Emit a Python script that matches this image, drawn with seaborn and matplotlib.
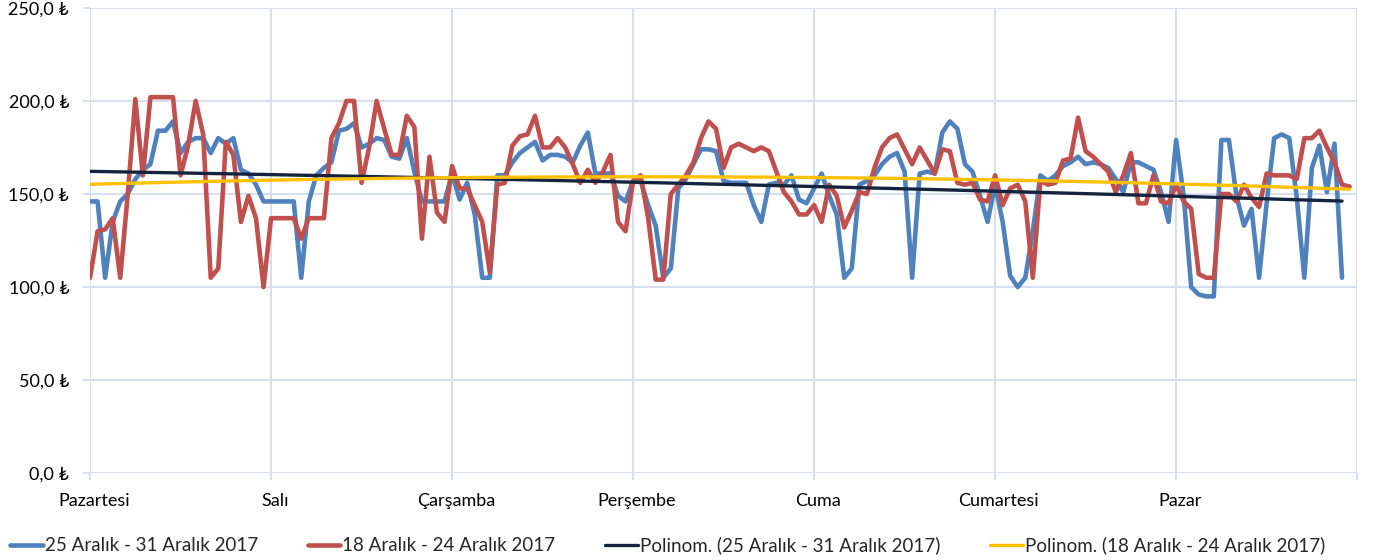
import numpy as np
import pandas as pd
import matplotlib
matplotlib.use("Agg")
import matplotlib.pyplot as plt
import seaborn as sns

# ---------------------------------
# Data: hourly prices, one week each
# ---------------------------------

days = ["Pazartesi", "Salı", "Çarşamba", "Perşembe", "Cuma", "Cumartesi", "Pazar"]
label_this = "25 Aralık - 31 Aralık 2017"
label_prev = "18 Aralık - 24 Aralık 2017"
label_trend_this = "Polinom. (25 Aralık - 31 Aralık 2017)"
label_trend_prev = "Polinom. (18 Aralık - 24 Aralık 2017)"

this_week = [
    146, 146, 105, 135, 146, 150, 158, 163, 166, 184, 184, 189, 172, 178, 180, 180, 172, 180, 177, 180, 163, 161, 155, 146,
    146, 146, 146, 146, 105, 146, 160, 164, 167, 184, 185, 188, 175, 177, 180, 179, 170, 169, 180, 162, 146, 146, 146, 146,
    161, 147, 156, 139, 105, 105, 160, 160, 167, 172, 175, 178, 168, 171, 171, 170, 167, 176, 183, 161, 161, 161, 149, 146,
    157, 157, 144, 133, 105, 110, 153, 158, 166, 174, 174, 173, 157, 156, 156, 156, 144, 135, 155, 156, 155, 160, 147, 145,
    153, 161, 149, 139, 105, 110, 155, 157, 160, 166, 170, 172, 162, 105, 161, 162, 161, 183, 189, 185, 166, 162, 149, 135,
    155, 135, 106, 100, 105, 130, 160, 157, 160, 165, 167, 170, 166, 167, 166, 164, 158, 151, 167, 167, 165, 163, 151, 135,
    179, 149, 100, 96, 95, 95, 179, 179, 149, 133, 142, 105, 145, 180, 182, 180, 148, 105, 164, 176, 151, 177, 105,
]

prev_week = [
    105, 130, 131, 137, 105, 150, 201, 160, 202, 202, 202, 202, 160, 176, 200, 182, 105, 110, 178, 171, 135, 149, 137, 100,
    137, 137, 137, 137, 126, 137, 137, 137, 180, 188, 200, 200, 156, 175, 200, 185, 171, 171, 192, 186, 126, 170, 140, 135,
    165, 153, 153, 144, 135, 108, 155, 156, 176, 181, 182, 192, 175, 175, 180, 175, 166, 156, 163, 156, 162, 171, 135, 130,
    157, 160, 137, 104, 104, 150, 155, 160, 167, 180, 189, 185, 164, 175, 177, 175, 173, 175, 173, 162, 151, 146, 139, 139,
    144, 135, 155, 149, 132, 141, 151, 150, 164, 175, 180, 182, 174, 166, 175, 168, 161, 174, 173, 156, 155, 156, 147, 146,
    160, 144, 153, 155, 146, 105, 157, 155, 156, 168, 169, 191, 173, 170, 166, 162, 151, 160, 172, 145, 145, 160, 146, 145,
    155, 146, 142, 107, 105, 105, 150, 150, 146, 155, 148, 143, 161, 160, 160, 160, 158, 180, 180, 184, 175, 167, 155, 154,
]

y_ticks = [0, 50, 100, 150, 200, 250]

# ---------------------------------
# Frames + polynomial (order 2) trendlines
# ---------------------------------

df_this = pd.DataFrame({"saat": np.arange(len(this_week)), "fiyat": this_week})
df_prev = pd.DataFrame({"saat": np.arange(len(prev_week)), "fiyat": prev_week})

coef_this = np.polyfit(df_this["saat"], df_this["fiyat"], 2)
coef_prev = np.polyfit(df_prev["saat"], df_prev["fiyat"], 2)
df_this["trend"] = np.polyval(coef_this, df_this["saat"])
df_prev["trend"] = np.polyval(coef_prev, df_prev["saat"])

# ---------------------------------
# Plot
# ---------------------------------

sns.set_theme(style="white")
plt.rcParams["font.family"] = ["Lato", "DejaVu Sans"]

grid_color = "#D6DFEE"
fs = 13

fig, ax = plt.subplots(figsize=(13.75, 5.6), dpi=100)
fig.subplots_adjust(left=0.0655, right=0.987, top=0.986, bottom=0.155)

sns.lineplot(data=df_this, x="saat", y="fiyat", color="#4F81BD", lw=3.3, ax=ax, label=label_this)
sns.lineplot(data=df_prev, x="saat", y="fiyat", color="#C0504D", lw=3.3, ax=ax, label=label_prev)
sns.lineplot(data=df_this, x="saat", y="trend", color="#14243E", lw=2.4, ax=ax, label=label_trend_this)
sns.lineplot(data=df_prev, x="saat", y="trend", color="#FFC000", lw=2.4, ax=ax, label=label_trend_prev)

ax.set_xlim(0, 168)
ax.set_ylim(0, 250)

# day boundaries as gridlines, day names as labels
ax.set_xticks(np.arange(0, 169, 24))
ax.set_xticklabels([])
ax.set_xticks(np.arange(0, 168, 24) + 0.5, minor=True)
ax.set_xticklabels(days, minor=True)

ax.set_yticks(y_ticks)
ax.set_yticklabels([f"{v:.1f}".replace(".", ",") + " ₺" for v in y_ticks])

ax.grid(True, which="major", color=grid_color, lw=1.4)
ax.set_axisbelow(True)
for s in ax.spines.values():
    s.set_visible(False)

ax.tick_params(axis="x", which="major", direction="out", length=5, width=1.4, color=grid_color, bottom=True)
ax.tick_params(axis="x", which="minor", length=0, pad=14, labelsize=fs, labelcolor="black")
ax.tick_params(axis="y", direction="out", length=5, width=1.4, color=grid_color, left=True,
               pad=10, labelsize=fs, labelcolor="black")

ax.set_xlabel("")
ax.set_ylabel("")

handles, labels = ax.get_legend_handles_labels()
ax.get_legend().remove()
fig.legend(handles, labels, loc="lower left", bbox_to_anchor=(-0.005, -0.02), ncol=4,
           frameon=False, fontsize=13.5, handlelength=1.75, handletextpad=0.1,
           columnspacing=2.65)

fig.savefig("out.png", dpi=100)
plt.close(fig)
